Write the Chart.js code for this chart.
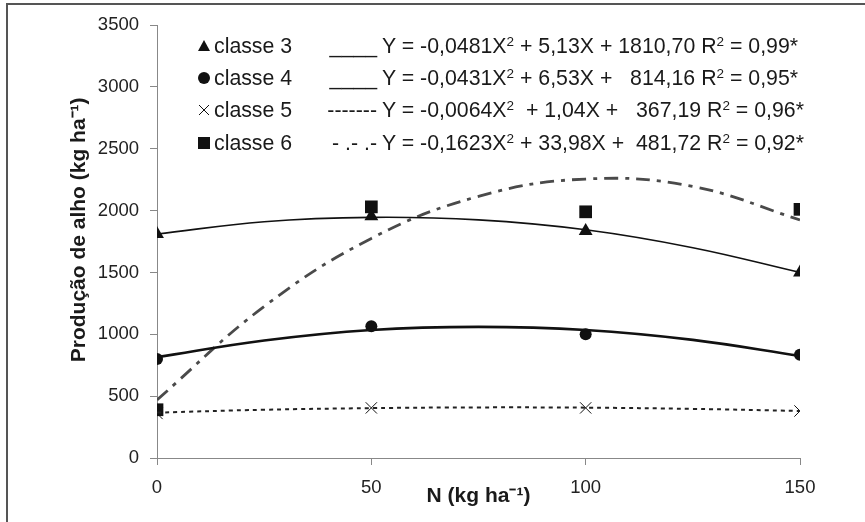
<!DOCTYPE html>
<html>
<head>
<meta charset="utf-8">
<script src="https://cdn.jsdelivr.net/npm/chart.js@4/dist/chart.umd.min.js"></script>
<style>
  body { margin: 0; background: #fff; }
  #wrap { position: relative; width: 865px; height: 522px; overflow: hidden; }
  #frame { position: absolute; left: 6px; top: 3px; width: 900px; height: 600px;
           border-top: 2px solid #555; border-left: 2px solid #555; }
  .leg { position: absolute; font-family: "Liberation Sans", Arial, sans-serif;
         font-size: 21.3px; color: #1a1a1a; white-space: pre; line-height: 22px; }
  .leg sup { font-size: 13.5px; position: relative; top: -4px; vertical-align: top; }
</style>
</head>
<body>
<div id="wrap">
  <canvas id="chart" width="865" height="522"></canvas>
  <div id="frame"></div>
  <div id="legend"></div>
</div>
<script>
// doses de N (kg/ha)
const doses = [0, 50, 100, 150]
const classe3 = [1810, 1955, 1835, 1500]
const classe4 = [800, 1065, 1000, 835]
const classe5 = [360, 405, 405, 380]
const classe6 = [390, 2030, 1990, 2010]

// curvas ajustadas
const curveX = [0, 25, 50, 75, 100, 125, 150]
const fit3 = [1810, 1910, 1945, 1925, 1845, 1700, 1500]
const fit4 = [815, 950, 1035, 1060, 1035, 955, 825]
const fit5 = [367, 390, 403, 409, 407, 397, 380]
const fit6 = [470, 1225, 1775, 2115, 2255, 2195, 1925]

const legendLabels = ['classe 3', 'classe 4', 'classe 5', 'classe 6']
const legendLines = ['____', '____', '-------', '- .- .-']
const equations = [
  'Y = -0,0481X<sup>2</sup> + 5,13X + 1810,70 R<sup>2</sup> = 0,99*',
  'Y = -0,0431X<sup>2</sup> + 6,53X +   814,16 R<sup>2</sup> = 0,95*',
  'Y = -0,0064X<sup>2</sup>  + 1,04X +   367,19 R<sup>2</sup> = 0,96*',
  'Y = -0,1623X<sup>2</sup> + 33,98X +  481,72 R<sup>2</sup> = 0,92*'
]
const markers = ['triangle', 'circle', 'crossRot', 'rect']

const pts = (xs, ys) => xs.map((x, i) => ({ x: x, y: ys[i] }))

const curve = (ys, width, dash, color) => ({
  type: 'line',
  data: pts(curveX, ys),
  borderColor: color,
  borderWidth: width,
  borderDash: dash,
  pointRadius: 0,
  tension: 0.4,
  fill: false
})

const marks = (ys, style, r) => ({
  type: 'scatter',
  data: pts(doses, ys),
  pointStyle: style,
  pointRadius: r,
  pointHoverRadius: r,
  backgroundColor: '#111',
  borderColor: '#111',
  borderWidth: style === 'crossRot' ? 1 : 0
})

// marcadores da legenda
const legendMarks = {
  id: 'legendMarks',
  afterDraw(chart) {
    const ctx = chart.ctx
    const ys = [46, 78, 110, 143]
    ctx.save()
    ctx.fillStyle = '#111'
    ctx.strokeStyle = '#111'
    ys.forEach((y, i) => {
      const x = 204
      ctx.beginPath()
      if (markers[i] === 'triangle') {
        ctx.moveTo(x, y - 6); ctx.lineTo(x + 6, y + 5); ctx.lineTo(x - 6, y + 5); ctx.closePath(); ctx.fill()
      } else if (markers[i] === 'circle') {
        ctx.arc(x, y, 6, 0, Math.PI * 2); ctx.fill()
      } else if (markers[i] === 'crossRot') {
        ctx.lineWidth = 1
        ctx.moveTo(x - 5, y - 5); ctx.lineTo(x + 5, y + 5)
        ctx.moveTo(x + 5, y - 5); ctx.lineTo(x - 5, y + 5); ctx.stroke()
      } else {
        ctx.fillRect(x - 6, y - 6, 12, 12)
      }
    })
    ctx.restore()
  }
}

new Chart(document.getElementById('chart'), {
  data: {
    datasets: [
      curve(fit3, 1.6, [], '#111'),
      curve(fit4, 2.6, [], '#111'),
      curve(fit5, 2, [4, 4], '#222'),
      curve(fit6, 2.8, [14, 7, 4, 7], '#4a4a4a'),
      marks(classe3, 'triangle', 8),
      marks(classe4, 'circle', 6),
      marks(classe5, 'crossRot', 8),
      marks(classe6, 'rect', 9)
    ]
  },
  options: {
    responsive: false,
    animation: false,
    layout: { padding: { left: 0, right: 65, top: 25, bottom: 0 } },
    plugins: { legend: { display: false }, tooltip: { enabled: false } },
    scales: {
      x: {
        type: 'linear', min: 0, max: 150,
        ticks: { stepSize: 50, color: '#222', padding: 12,
                 callback: (v) => String(v),
                 font: { family: 'Liberation Sans', size: 18.5 } },
        grid: { drawOnChartArea: false, tickLength: 7, color: '#888' },
        border: { color: '#888' },
        title: { display: true, text: 'N (kg ha⁻¹)', color: '#1a1a1a',
                 padding: { top: 0, bottom: 13 },
                 font: { family: 'Liberation Sans', size: 21, weight: 'bold' } },
        afterFit: (s) => { s.height = 64 }
      },
      y: {
        min: 0, max: 3500,
        ticks: { stepSize: 500, color: '#222', padding: 11,
                 callback: (v) => String(v),
                 font: { family: 'Liberation Sans', size: 18.5 } },
        grid: { drawOnChartArea: false, tickLength: 7, color: '#888' },
        border: { color: '#888' },
        title: { display: true, text: '    Produção de alho (kg ha⁻¹)', color: '#1a1a1a',
                 padding: { top: 67, bottom: 0 },
                 font: { family: 'Liberation Sans', size: 21, weight: 'bold' } },
        afterFit: (s) => { s.width = 157 }
      }
    }
  },
  plugins: [legendMarks]
})

// legenda em texto
const legend = document.getElementById('legend')
const rowY = [46, 78, 110, 143]
rowY.forEach((y, i) => {
  legend.insertAdjacentHTML('beforeend',
    `<div class="leg" style="left:214px;top:${y - 11}px">${legendLabels[i]}</div>` +
    `<div class="leg" style="left:300px;width:77px;text-align:right;top:${y - 11}px">${legendLines[i]}</div>` +
    `<div class="leg" style="left:382px;top:${y - 11}px">${equations[i]}</div>`)
})
</script>
</body>
</html>
